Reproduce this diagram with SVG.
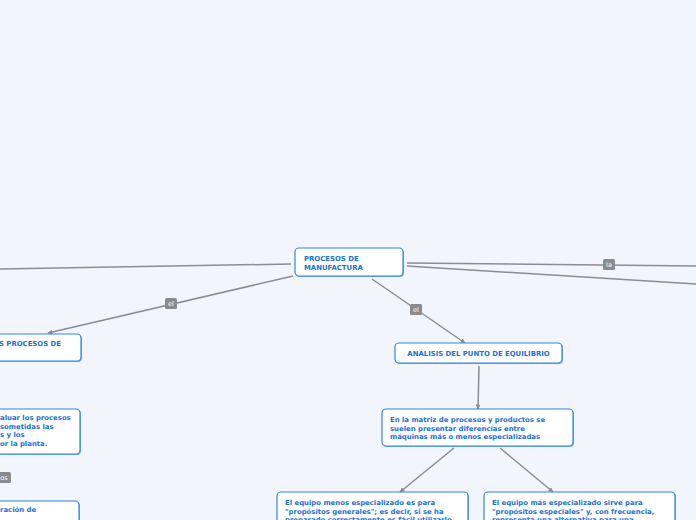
<svg xmlns="http://www.w3.org/2000/svg" width="696" height="520" viewBox="0 0 696 520">
<defs>
<style>
.bg{fill:#f3f5fc}
.box{fill:#ffffff;stroke:#2f86e6;stroke-width:1.2}
.sh{fill:#2a6fc0;opacity:0.55}
.t{font-family:"DejaVu Sans",Verdana,sans-serif;font-weight:bold;font-size:6.9px;fill:#1b6fd4}
.c{fill:none;stroke:#8a8c96;stroke-width:1.5}
.lb{fill:#8b8b8f}
.lt{font-family:"DejaVu Sans",Verdana,sans-serif;font-size:6.5px;fill:#ffffff;text-anchor:middle}
</style>
<marker id="ah" viewBox="0 0 10 10" refX="9" refY="5" markerWidth="5" markerHeight="5" orient="auto" markerUnits="userSpaceOnUse">
<path d="M0,0 L10,5 L0,10 z" fill="#8a8c96"/>
</marker>
</defs>
<rect class="bg" x="0" y="0" width="696" height="520"/>
<g id="connectors">
<line class="c" x1="291" y1="264" x2="0" y2="269"/>
<line class="c" x1="293" y1="276" x2="48" y2="333" marker-end="url(#ah)"/>
<line class="c" x1="372" y1="279" x2="465" y2="343" marker-end="url(#ah)"/>
<line class="c" x1="479" y1="366" x2="478" y2="409" marker-end="url(#ah)"/>
<line class="c" x1="454" y1="448" x2="400" y2="492" marker-end="url(#ah)"/>
<line class="c" x1="500" y1="448" x2="553" y2="492" marker-end="url(#ah)"/>
<line class="c" x1="407" y1="263" x2="696" y2="266"/>
<line class="c" x1="407" y1="266" x2="696" y2="284"/>
<rect class="lb" x="165" y="298" width="12" height="11" rx="1.5"/>
<text class="lt" x="171" y="306">el</text>
<rect class="lb" x="410" y="304" width="12" height="11" rx="1.5"/>
<text class="lt" x="416" y="312">el</text>
<rect class="lb" x="603" y="259" width="12" height="11" rx="1.5"/>
<text class="lt" x="609" y="267">la</text>
<rect class="lb" x="-4" y="472" width="15" height="11" rx="1.5"/>
<text class="lt" x="4" y="480">os</text>
</g>
<g id="n-procesos">
<rect class="sh" x="296" y="249" width="108" height="28" rx="4"/>
<rect class="box" x="295" y="248" width="108" height="28" rx="4"/>
<text class="t" x="304" y="261">PROCESOS DE</text>
<text class="t" x="304" y="270">MANUFACTURA</text>
</g>
<g id="n-left1">
<rect class="sh" x="-9" y="335" width="91" height="27" rx="4"/>
<rect class="box" x="-10" y="334" width="91" height="27" rx="4"/>
<text class="t" x="-1" y="346">S PROCESOS DE</text>
</g>
<g id="n-left2">
<rect class="sh" x="-9" y="410" width="90" height="45" rx="4"/>
<rect class="box" x="-10" y="409" width="90" height="45" rx="4"/>
<text class="t" x="0" y="420">aluar los procesos</text>
<text class="t" x="0" y="428.5">sometidas las</text>
<text class="t" x="0" y="437">s y los</text>
<text class="t" x="0" y="445.5">or la planta.</text>
</g>
<g id="n-left3">
<rect class="sh" x="-9" y="502" width="89" height="30" rx="4"/>
<rect class="box" x="-10" y="501" width="89" height="30" rx="4"/>
<text class="t" x="0" y="512">ración de</text>
</g>
<g id="n-analisis">
<rect class="sh" x="396" y="344" width="167" height="20" rx="4"/>
<rect class="box" x="395" y="343" width="167" height="20" rx="4"/>
<text class="t" x="478.5" y="356" text-anchor="middle">ANÁLISIS DEL PUNTO DE EQUILIBRIO</text>
</g>
<g id="n-matriz">
<rect class="sh" x="383" y="410" width="191" height="37" rx="4"/>
<rect class="box" x="382" y="409" width="191" height="37" rx="4"/>
<text class="t" x="390" y="422">En la matriz de procesos y productos se</text>
<text class="t" x="390" y="430.5">suelen presentar diferencias entre</text>
<text class="t" x="390" y="439">máquinas más o menos especializadas</text>
</g>
<g id="n-menos">
<rect class="sh" x="278" y="493" width="191" height="40" rx="4"/>
<rect class="box" x="277" y="492" width="191" height="40" rx="4"/>
<text class="t" x="285" y="505">El equipo menos especializado es para</text>
<text class="t" x="285" y="513.5">"propósitos generales"; es decir, si se ha</text>
<text class="t" x="285" y="522">preparado correctamente es fácil utilizarlo</text>
</g>
<g id="n-mas">
<rect class="sh" x="485" y="493" width="191" height="40" rx="4"/>
<rect class="box" x="484" y="492" width="191" height="40" rx="4"/>
<text class="t" x="492" y="505">El equipo más especializado sirve para</text>
<text class="t" x="492" y="513.5">"propósitos especiales" y, con frecuencia,</text>
<text class="t" x="492" y="522">representa una alternativa para una</text>
</g>
</svg>
